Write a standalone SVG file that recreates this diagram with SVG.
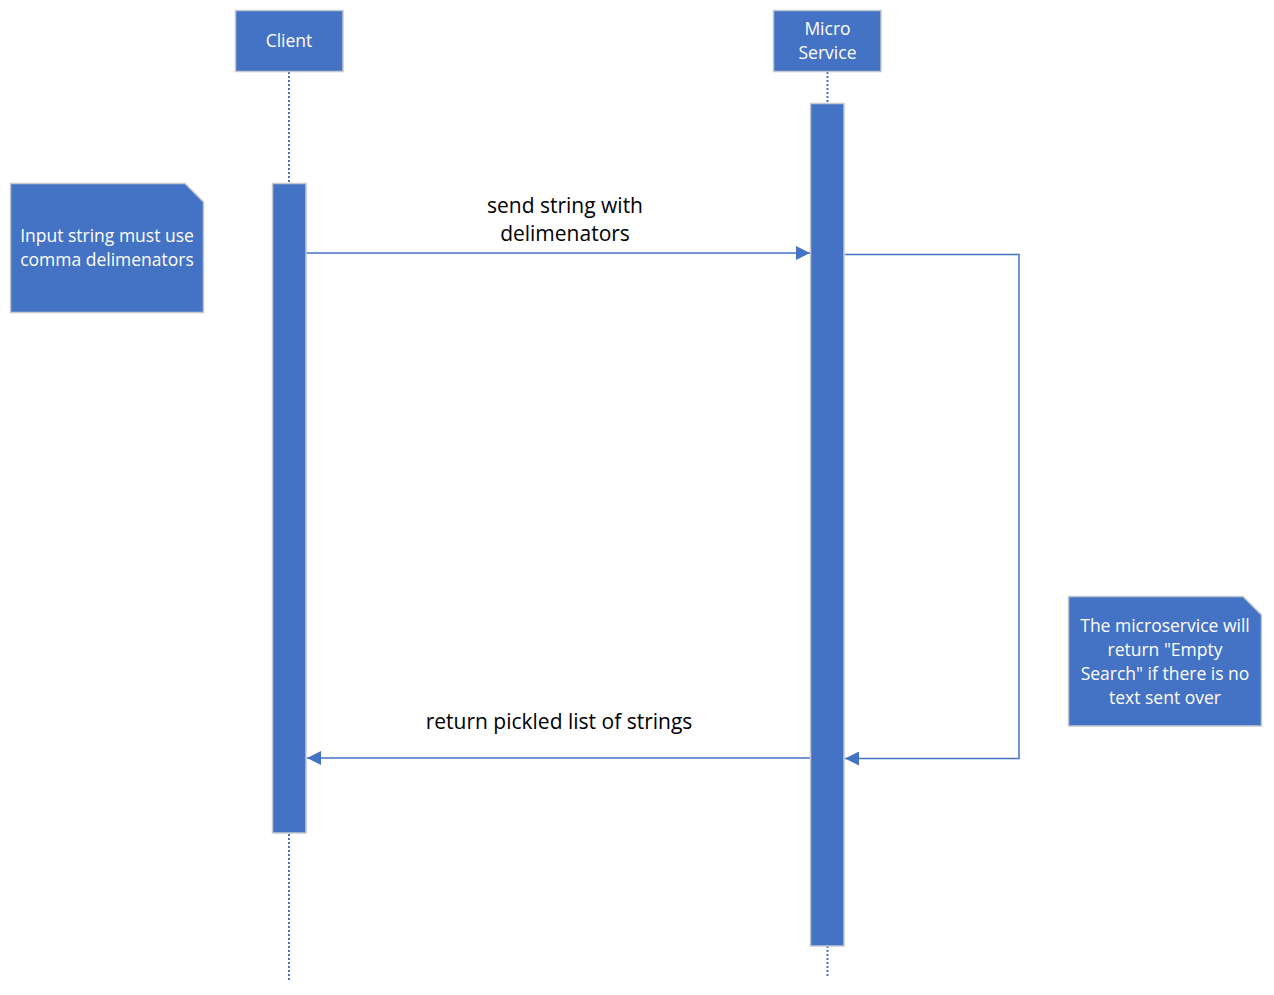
<svg xmlns="http://www.w3.org/2000/svg" width="1274" height="995" viewBox="0 0 1274 995">
<style>
.box{fill:#4472C4;stroke:#C3C7CF;stroke-width:1.5}
.life{stroke:#4472C4;stroke-width:2;stroke-dasharray:2 2;fill:none}
.msg{stroke:#4472C4;stroke-width:1.5;fill:none}
.wt{font-family:"Open Sans","Noto Sans",sans-serif;fill:#FFFFFF;text-anchor:middle;font-size:17.5px}
.lbl{font-family:"Open Sans","Noto Sans",sans-serif;fill:#000000;text-anchor:middle;font-size:21px}
</style>
<defs>
<marker id="ah" viewBox="0 0 14 14" refX="14" refY="7" markerWidth="14" markerHeight="14" markerUnits="userSpaceOnUse" orient="auto">
<path d="M0,0 L14,7 L0,14 Z" fill="#4472C4"/>
</marker>
</defs>
<rect width="1274" height="995" fill="#FFFFFF"/>
<g id="connectors">
<line class="life" x1="289" y1="72" x2="289" y2="183"/>
<line class="life" x1="289" y1="834" x2="289" y2="982"/>
<line class="life" x1="827.5" y1="72" x2="827.5" y2="103"/>
<line class="life" x1="827.5" y1="946" x2="827.5" y2="978"/>
<line class="msg" x1="306" y1="253" x2="810" y2="253" marker-end="url(#ah)"/>
<polyline class="msg" points="845,254.5 1019,254.5 1019,758.5 845,758.5" marker-end="url(#ah)"/>
<line class="msg" x1="811" y1="758" x2="307" y2="758" marker-end="url(#ah)"/>
<text class="lbl" x="565" y="213">send string with</text>
<text class="lbl" x="565" y="241">delimenators</text>
<text class="lbl" x="559" y="729">return pickled list of strings</text>
</g>
<g id="client">
<rect class="box" x="235.5" y="10.5" width="107.5" height="61"/>
<text class="wt" x="289" y="47">Client</text>
</g>
<g id="client-activation">
<rect class="box" x="272.5" y="183.5" width="33.5" height="649.5"/>
</g>
<g id="microservice">
<rect class="box" x="773.5" y="10.5" width="107.5" height="61"/>
<text class="wt" x="827.5" y="35">Micro</text>
<text class="wt" x="827.5" y="59">Service</text>
</g>
<g id="microservice-activation">
<rect class="box" x="810.5" y="103.5" width="33.5" height="842.5"/>
</g>
<g id="note-input">
<path class="box" d="M10.5,183.5 L185,183.5 L203.5,202 L203.5,312.5 L10.5,312.5 Z"/>
<text class="wt" x="107" y="242">Input string must use</text>
<text class="wt" x="107" y="266">comma delimenators</text>
</g>
<g id="note-empty">
<path class="box" d="M1068.5,596.5 L1243,596.5 L1261.5,615 L1261.5,726 L1068.5,726 Z"/>
<text class="wt" x="1165" y="632">The microservice will</text>
<text class="wt" x="1165" y="656">return "Empty</text>
<text class="wt" x="1165" y="680">Search" if there is no</text>
<text class="wt" x="1165" y="704">text sent over</text>
</g>
</svg>
